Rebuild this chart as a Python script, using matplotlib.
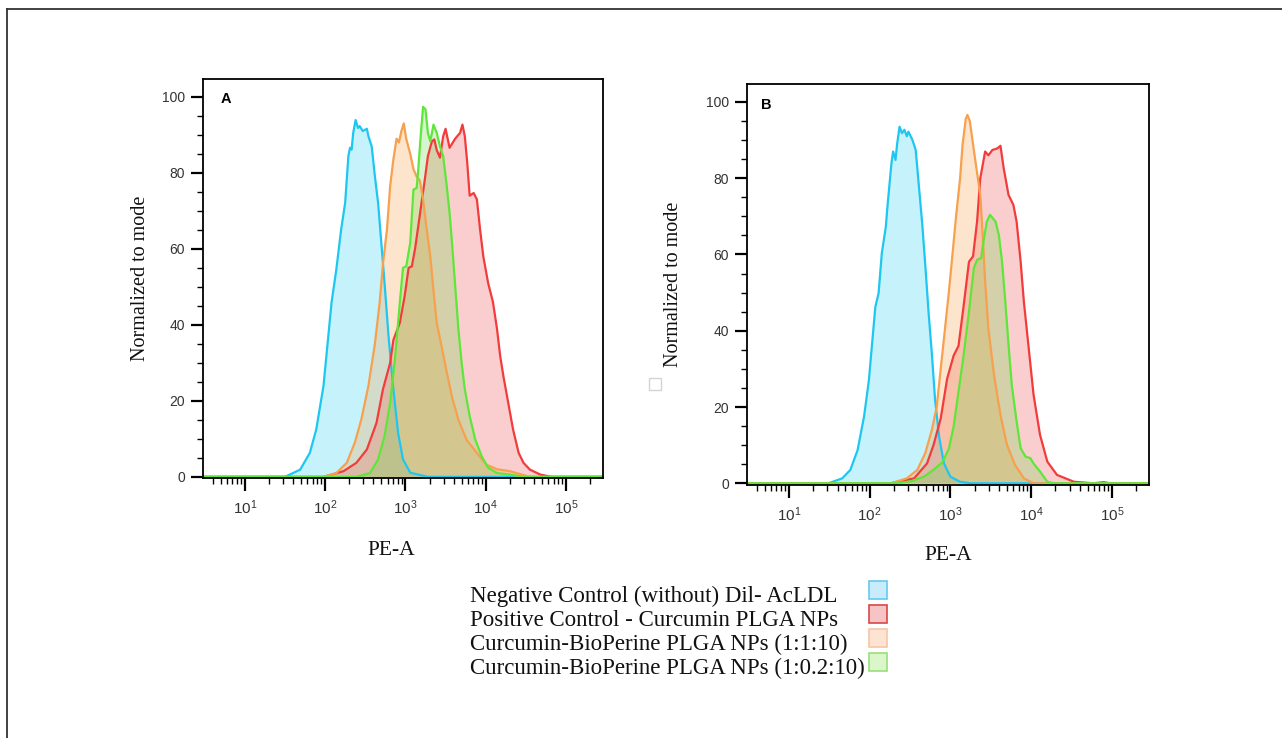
import numpy as np
import matplotlib
matplotlib.use("Agg")
import matplotlib.pyplot as plt
from matplotlib.ticker import LogLocator, MultipleLocator, NullFormatter
from matplotlib.patches import Rectangle
from matplotlib.lines import Line2D

# fonts: sans for ticks, serif for labels / legend
plt.rcParams['font.family'] = 'Liberation Sans'
plt.rcParams['mathtext.fontset'] = 'custom'
plt.rcParams['mathtext.rm'] = 'Liberation Sans'
plt.rcParams['mathtext.it'] = 'Liberation Sans:italic'
plt.rcParams['mathtext.bf'] = 'Liberation Sans:bold'

# ---- data (x = log10 PE-A, y = % of mode) ----
# Panel A
a_neg_log = [1.50, 1.69, 1.81, 1.89, 1.98, 2.04, 2.08, 2.14, 2.20, 2.25, 2.29, 2.31, 2.33, 2.35, 2.38, 2.41,
             2.43, 2.47, 2.52, 2.54, 2.58, 2.62, 2.66, 2.70, 2.74, 2.79, 2.85, 2.91, 2.97, 3.06, 3.28]
a_neg_y = [0, 1.9, 6.3, 12.5, 23.9, 37.0, 45.8, 54.6, 65.1, 72.1, 84.4, 86.6, 86.1, 90.5, 93.9, 91.8,
           92.3, 91.0, 91.6, 89.6, 87.0, 79.1, 72.1, 61.6, 51.1, 37.0, 23.0, 11.4, 4.6, 1.1, 0]

a_pos_log = [1.98, 2.23, 2.39, 2.52, 2.64, 2.72, 2.81, 2.85, 2.93, 2.99, 3.04, 3.08, 3.12, 3.16, 3.20, 3.24,
             3.28, 3.33, 3.36, 3.39, 3.43, 3.47, 3.50, 3.55, 3.62, 3.68, 3.71, 3.74, 3.77, 3.80, 3.85, 3.89,
             3.93, 3.97, 4.03, 4.09, 4.14, 4.18, 4.22, 4.28, 4.34, 4.41, 4.47, 4.55, 4.68, 4.82]
a_pos_y = [0, 1.5, 3.7, 7.2, 14.2, 23, 30, 36, 40.5, 47.5, 55, 55.4, 60, 66, 72, 78,
           84.4, 88.3, 88.8, 86, 84, 89.6, 91.6, 86.6, 89, 90.5, 92.7, 89.6, 82.6, 74, 74.7, 73,
           65, 58, 51, 46, 39, 31.8, 26.5, 19.5, 12.5, 6.3, 3.7, 1.9, 0.6, 0]

a_bp1_log = [1.98, 2.14, 2.27, 2.37, 2.45, 2.54, 2.62, 2.68, 2.72, 2.77, 2.81, 2.85, 2.89, 2.92, 2.95, 2.98,
             3.01, 3.06, 3.10, 3.14, 3.18, 3.22, 3.26, 3.31, 3.35, 3.39, 3.45, 3.51, 3.58, 3.66, 3.76, 3.89,
             4.01, 4.14, 4.30, 4.45, 4.55]
a_bp1_y = [0, 1, 3.7, 9, 15, 24, 35, 46, 56, 65, 76.5, 83.5, 89, 88, 91, 93,
           89, 85, 81, 79, 78, 73, 66, 58, 49, 40.5, 34.4, 28, 21, 15, 9.8, 6.3,
           3.2, 2, 1.5, 0.6, 0]

a_bp02_log = [2.39, 2.56, 2.66, 2.74, 2.81, 2.87, 2.93, 2.97, 3.01, 3.06, 3.10, 3.14, 3.16, 3.19, 3.22, 3.25,
              3.28, 3.31, 3.35, 3.39, 3.43, 3.47, 3.51, 3.55, 3.58, 3.62, 3.66, 3.70, 3.74, 3.80, 3.87, 3.95,
              4.03, 4.14, 4.30, 4.47]
a_bp02_y = [0, 1, 4.6, 10.7, 19.5, 31, 45.8, 55, 55.4, 61.6, 75.6, 76, 81, 89.6, 97.4, 96.7,
            90.5, 88.3, 92.7, 90.5, 87, 84.4, 77.4, 69.5, 61.6, 50.2, 38.8, 30, 23, 16, 9.8, 5.4,
            2.4, 1, 0.6, 0]

# Panel B
b_neg_log = [1.49, 1.66, 1.76, 1.85, 1.93, 1.99, 2.03, 2.07, 2.11, 2.15, 2.20, 2.22, 2.25, 2.27, 2.29, 2.32,
             2.34, 2.37, 2.40, 2.43, 2.46, 2.48, 2.53, 2.57, 2.61, 2.65, 2.69, 2.73, 2.77, 2.81, 2.86, 2.92,
             3.00, 3.12, 3.25]
b_neg_y = [0, 1.3, 3.5, 8.7, 17.5, 27, 36.7, 46.3, 49.8, 60.3, 67.3, 72.6, 79.5, 84, 87, 84.8,
           89, 93.5, 91.8, 92.7, 91, 92.2, 90, 87.4, 77.8, 68.2, 56.8, 44.6, 34, 21.9, 12.2, 5.2,
           1.7, 0.4, 0]

b_pos_log = [2.26, 2.55, 2.71, 2.79, 2.88, 2.96, 3.04, 3.10, 3.16, 3.23, 3.28, 3.33, 3.37, 3.43, 3.47, 3.52,
             3.58, 3.62, 3.66, 3.72, 3.78, 3.82, 3.87, 3.91, 3.97, 4.03, 4.11, 4.20, 4.32, 4.53, 4.77, 4.90,
             4.98]
b_pos_y = [0, 1.3, 5.2, 10, 17, 27.5, 33.5, 36, 45.9, 58.1, 59.5, 68.6, 80, 87, 86, 87.4,
           87.8, 88.5, 82.6, 75.6, 73, 68.6, 58.1, 47.6, 35.4, 23.2, 12.7, 5.7, 2.2, 0.4, 0, 0.3,
           0]

b_bp1_log = [2.26, 2.46, 2.59, 2.69, 2.77, 2.83, 2.88, 2.93, 2.98, 3.03, 3.07, 3.12, 3.15, 3.19, 3.21, 3.24,
             3.31, 3.37, 3.40, 3.43, 3.47, 3.54, 3.62, 3.70, 3.80, 3.91, 4.03]
b_bp1_y = [0, 1.3, 3.5, 8, 14, 20, 30, 40, 50, 61, 70, 80, 88.7, 95.5, 96.6, 95,
           84.4, 75.6, 65.1, 52.9, 40.6, 28.4, 17.9, 10.1, 4.8, 1.3, 0]

b_bp02_log = [2.32, 2.51, 2.67, 2.79, 2.90, 2.98, 3.04, 3.10, 3.16, 3.23, 3.29, 3.33, 3.38, 3.41, 3.45, 3.49,
              3.56, 3.60, 3.64, 3.68, 3.72, 3.76, 3.82, 3.87, 3.93, 3.99, 4.03, 4.11, 4.20, 4.28]
b_bp02_y = [0, 0.5, 1.7, 3.5, 5.5, 9, 14.9, 24, 33, 45, 56.4, 58.6, 59, 63.4, 68.6, 70.4,
            68.6, 65.1, 58.1, 47.6, 36.3, 25.8, 16.2, 9.2, 7, 6.6, 5.2, 3.1, 0.4, 0]

legend_labels = ["Negative Control (without) Dil- AcLDL",
                 "Positive Control - Curcumin PLGA NPs",
                 "Curcumin-BioPerine PLGA NPs (1:1:10)",
                 "Curcumin-BioPerine PLGA NPs (1:0.2:10)"]

# line colour, fill colour
colors = {
    'neg': ('#1ec6f2', '#2ed4f2'),
    'pos': ('#f23c3c', '#f04a4a'),
    'bp1': ('#f7a04e', '#f8a048'),
    'bp02': ('#5fe63a', '#6ed84a'),
}
legend_boxes = [('#66c8f0', '#c8ecfb'), ('#d84848', '#f6c4c4'),
                ('#f6c6a6', '#fde3d2'), ('#98e078', '#dcf6cc')]

fig = plt.figure(figsize=(12.82, 7.38), dpi=100)


def draw_panel(ax, curves, letter, letter_xy, ylim, ylab_x, xlab_xy):
    ax.set_xscale('log')
    ax.set_xlim(10 ** 0.48, 10 ** 5.46)
    ax.set_ylim(*ylim)
    lo, hi = ax.get_xlim()
    # fills first, then the outlines on top
    for key, lx, y in curves:
        x = np.concatenate([[lo], 10 ** np.array(lx), [hi]])
        yy = np.concatenate([[0], y, [0]])
        ax.fill_between(x, 0, yy, color=colors[key][1], alpha=0.27, lw=0)
    for key, lx, y in curves:
        x = np.concatenate([[lo], 10 ** np.array(lx), [hi]])
        yy = np.concatenate([[0], y, [0]])
        ax.plot(x, yy, color=colors[key][0], lw=1.6, solid_joinstyle='round')

    ax.xaxis.set_major_locator(LogLocator(base=10, numticks=10))
    ax.xaxis.set_minor_locator(LogLocator(base=10, subs=np.arange(2, 10), numticks=20))
    ax.xaxis.set_minor_formatter(NullFormatter())
    ax.yaxis.set_major_locator(MultipleLocator(20))
    ax.yaxis.set_minor_locator(MultipleLocator(5))
    ax.tick_params(which='major', direction='out', length=9, width=1.6, color='black',
                   labelcolor='#333333')
    ax.tick_params(axis='x', which='major', pad=6, labelsize=11)
    ax.tick_params(axis='y', which='major', pad=4, labelsize=10)
    ax.tick_params(which='minor', direction='out', length=4.5, width=1.0, color='black')
    for sp in ax.spines.values():
        sp.set_linewidth(1.3)
        sp.set_color('black')

    ax.set_ylabel('Normalized to mode', family='Liberation Serif', fontsize=14.5, color='#111111')
    ax.yaxis.set_label_coords(ylab_x, 0.5)
    ax.set_xlabel('PE-A', family='Liberation Serif', fontsize=15.5, color='#111111')
    ax.xaxis.set_label_coords(*xlab_xy)
    ax.text(letter_xy[0], letter_xy[1], letter, transform=ax.transAxes, fontsize=10.5,
            fontweight='bold', va='baseline', ha='left')


W, H = 1282.0, 738.0
ax_a = fig.add_axes([203 / W, (H - 478) / H, 400 / W, 399 / H])
ax_b = fig.add_axes([747 / W, (H - 485) / H, 402 / W, 401 / H])

curves_a = [('neg', a_neg_log, a_neg_y), ('pos', a_pos_log, a_pos_y),
            ('bp1', a_bp1_log, a_bp1_y), ('bp02', a_bp02_log, a_bp02_y)]
curves_b = [('neg', b_neg_log, b_neg_y), ('pos', b_pos_log, b_pos_y),
            ('bp1', b_bp1_log, b_bp1_y), ('bp02', b_bp02_log, b_bp02_y)]

draw_panel(ax_a, curves_a, 'A', (0.045, 0.94), (-0.3, 104.7), -0.133, (0.47, -0.158))
draw_panel(ax_b, curves_b, 'B', (0.035, 0.938), (-0.45, 104.7), -0.159, (0.5, -0.152))

# legend, drawn by hand: text on the left, coloured boxes on the right
for i, label in enumerate(legend_labels):
    base = 602 + 24 * i
    fig.text(470 / W, (H - base) / H, label, family='Liberation Serif', fontsize=16.5,
             color='#111111', va='baseline', ha='left')
    edge, face = legend_boxes[i]
    cy = 590 + 24 * i
    fig.patches.append(Rectangle((869 / W, (H - cy - 9) / H), 18 / W, 18 / H,
                                 transform=fig.transFigure, facecolor=face, edgecolor=edge, lw=1.2))

# stray little box left of panel B's label
fig.patches.append(Rectangle((649 / W, (H - 390) / H), 12 / W, 12 / H, transform=fig.transFigure,
                             facecolor='none', edgecolor='#d4d4d4', lw=1))

# page frame (top and left edges only)
fig.add_artist(Line2D([7 / W, 1.0], [(H - 9) / H, (H - 9) / H], color='#333333', lw=1.3))
fig.add_artist(Line2D([7 / W, 7 / W], [0, (H - 9) / H], color='#333333', lw=1.3))

fig.savefig('out.png', dpi=100)
